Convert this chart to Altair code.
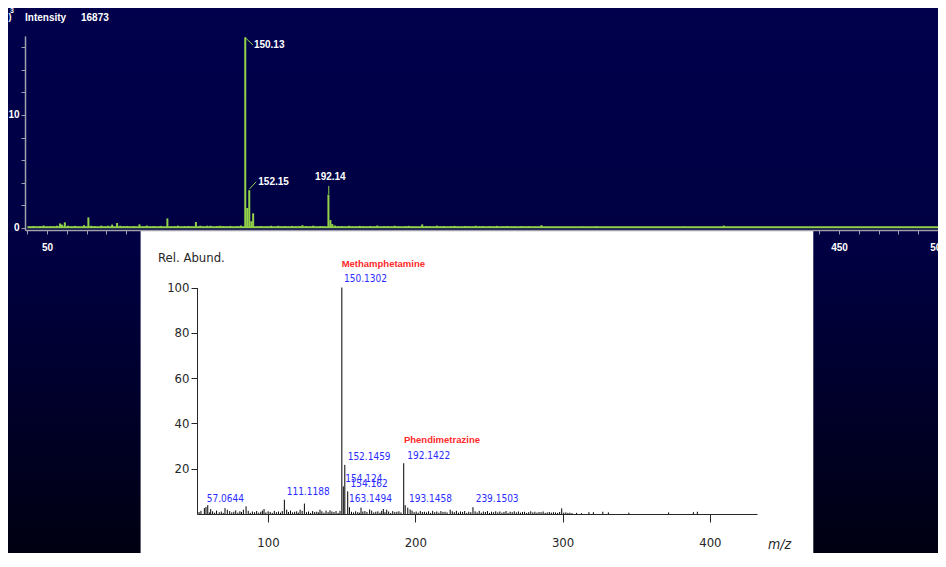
import altair as alt
import pandas as pd

W, H = 930, 545

# ---------------- upper spectrum (intensity x10^3) ----------------
top_mz = [56.6, 57.6, 59.0, 60.6, 68.7, 70.9, 72.3, 80.9, 82.9, 85.4, 87.0, 96.7,
          110.8, 125.2, 127.4, 130.9, 136.0, 137.5, 150.13, 151.13, 152.15, 153.2,
          154.12, 163.2, 177.5, 179.0, 192.14, 193.15, 194.1, 195.5, 239.5, 299.7,
          320.5, 327.5, 371.5, 391.8]
top_int = [0.40, 0.30, 0.50, 0.20, 0.25, 0.94, 0.20, 0.20, 0.30, 0.44, 0.20, 0.32,
           0.85, 0.53, 0.20, 0.20, 0.18, 0.20, 16.873, 1.77, 3.35, 0.60,
           1.30, 0.20, 0.15, 0.25, 2.96, 0.70, 0.35, 0.22, 0.32, 0.25,
           0.12, 0.15, 0.12, 0.22]
top_noise_mz = [41.6, 43.2, 44.9, 46.5, 48.3, 50.1, 51.8, 53.5, 55.0, 62.4, 64.1, 65.8,
                74.0, 75.7, 77.4, 79.1, 88.8, 90.6, 92.3, 94.0, 98.7, 100.4, 102.2, 103.9,
                105.7, 107.4, 112.6, 114.4, 116.1, 117.9, 119.6, 121.4, 123.1, 128.9, 132.6,
                134.3, 139.1, 140.8, 142.6, 144.3, 146.1, 147.9, 156.1, 157.9, 159.7, 161.4,
                165.0, 166.8, 168.5, 170.3, 172.0, 173.8, 175.6, 181.0, 182.8, 184.5, 186.3,
                188.1, 189.9, 197.3, 199.0, 200.8, 202.6, 204.3, 206.1, 207.9, 209.7, 211.4,
                213.2, 215.0, 216.8, 218.5, 220.3, 222.1, 223.9, 225.6, 227.4, 229.2, 231.0,
                232.7, 234.5, 236.3, 241.6, 243.4, 245.2, 246.9, 248.7, 250.5, 252.3, 254.1,
                255.8, 257.6, 259.4, 261.2, 262.9, 264.7, 266.5, 268.3, 270.1, 271.8, 273.6,
                275.4, 277.2, 279.0, 280.7, 282.5, 284.3, 286.1, 287.8, 289.6, 291.4, 293.2,
                295.0, 296.7, 298.3, 301.4, 303.2, 305.0, 306.8, 308.5]
top_noise_int = [0.12, 0.18, 0.10, 0.15, 0.22, 0.11, 0.16, 0.13, 0.20, 0.14, 0.19, 0.12,
                 0.17, 0.10, 0.21, 0.13, 0.15, 0.18, 0.11, 0.16, 0.14, 0.22, 0.12, 0.17,
                 0.10, 0.19, 0.13, 0.16, 0.21, 0.11, 0.15, 0.18, 0.12, 0.14, 0.20,
                 0.10, 0.17, 0.13, 0.19, 0.11, 0.16, 0.22, 0.14, 0.18, 0.12, 0.15,
                 0.10, 0.20, 0.13, 0.17, 0.11, 0.19, 0.14, 0.16, 0.12, 0.21, 0.10,
                 0.18, 0.13, 0.15, 0.17, 0.11, 0.20, 0.14, 0.12, 0.19, 0.16, 0.10,
                 0.18, 0.13, 0.22, 0.11, 0.15, 0.17, 0.12, 0.20, 0.14, 0.10, 0.16,
                 0.19, 0.13, 0.11, 0.18, 0.15, 0.12, 0.21, 0.14, 0.17, 0.10, 0.16,
                 0.19, 0.13, 0.11, 0.18, 0.15, 0.12, 0.20, 0.14, 0.17, 0.10, 0.16,
                 0.13, 0.19, 0.11, 0.15, 0.18, 0.12, 0.14, 0.10, 0.17, 0.13, 0.16,
                 0.11, 0.12, 0.10, 0.09, 0.08, 0.09, 0.08]
top_base = {"x0": [40.1], "x1": [500.0], "y": [0.06]}
top_labels = ["150.13", "152.15", "192.14"]
top_label_mz = [154.5, 156.7, 185.4]
top_label_int = [16.19, 4.08, 4.52]
top_conn_x = [150.1, 152.2, 192.3]
top_conn_x2 = [154.0, 155.6, 192.3]
top_conn_y = [16.85, 3.44, 3.73]
top_conn_y2 = [16.20, 4.08, 3.00]

# ---------------- inset library spectrum (relative abundance %) ----------------
lib_mz = [56.8, 57.9, 59.1, 61.1, 70.8, 72.4, 83.3, 85.1, 97.3, 111.12, 112.7, 121.8,
          124.7, 135.3, 142.1, 150.13, 151.13, 152.15, 154.12, 155.3, 163.15, 169.0,
          178.3, 180.6, 192.14, 193.15, 194.9, 196.5, 223.7, 239.15, 299.4, 317.9,
          320.9, 327.3, 331.1, 345.0, 372.0, 388.8, 391.5]
lib_rel = [2.6, 3.1, 3.9, 2.2, 2.6, 1.9, 1.9, 3.4, 2.2, 6.3, 1.9, 1.9,
           4.6, 1.9, 1.6, 100.0, 12.2, 21.7, 10.0, 3.0, 2.8, 2.0,
           2.2, 1.9, 22.4, 3.9, 2.8, 2.0, 1.9, 3.0, 2.5, 0.8,
           0.8, 1.0, 0.7, 0.6, 0.7, 0.8, 1.0]
lib_noise_mz = [53.2, 54.5, 60.2, 62.4, 63.8, 65.1, 66.9, 68.3, 69.6, 74.0, 75.4, 76.8,
                78.1, 79.5, 80.9, 82.0, 86.6, 88.0, 89.4, 90.9, 92.3, 93.7, 95.1, 96.2,
                98.6, 100.1, 101.5, 102.9, 104.3, 105.7, 107.1, 108.5, 109.7, 113.9, 115.3,
                116.7, 118.1, 119.5, 120.6, 123.2, 126.1, 127.5, 128.9, 130.3, 131.7, 133.1,
                134.2, 136.6, 138.0, 139.4, 140.8, 143.4, 144.8, 146.2, 147.6, 148.9, 156.7,
                158.1, 159.5, 160.9, 162.0, 164.4, 165.8, 167.2, 170.4, 171.8, 173.2, 174.6,
                176.0, 177.2, 179.4, 181.9, 183.3, 184.7, 186.1, 187.5, 188.9, 190.3, 197.8,
                199.2, 200.6, 202.0, 203.4, 204.8, 206.2, 207.6, 209.0, 210.4, 211.8, 213.2,
                214.6, 216.0, 217.4, 218.8, 220.2, 221.6, 225.1, 226.5, 227.9, 229.3, 230.7,
                232.1, 233.5, 234.9, 236.3, 237.7, 240.6, 242.0, 243.4, 244.8, 246.2, 247.6,
                249.0, 250.4, 251.8, 253.2, 254.6, 256.0, 257.4, 258.8, 260.2, 261.6, 263.0,
                264.4, 265.8, 267.2, 268.6, 270.0, 271.4, 272.8, 274.2, 275.6, 277.0, 278.4,
                279.8, 281.2, 282.6, 284.0, 285.4, 286.8, 288.2, 289.6, 291.0, 292.4, 293.8,
                295.2, 296.6, 298.0, 300.8, 302.2, 303.6, 305.0, 306.4, 309.5, 312.8]
lib_noise_rel = [0.9, 1.4, 0.7, 1.2, 0.6, 1.5, 0.8, 1.1, 0.5, 1.3, 0.7, 1.0,
                 1.6, 0.6, 1.2, 0.9, 1.4, 0.5, 1.1, 0.8, 1.3, 0.6, 1.0, 1.5,
                 0.7, 1.2, 0.9, 0.5, 1.4, 0.8, 1.1, 0.6, 1.3, 0.9, 1.5,
                 0.7, 1.0, 1.2, 0.6, 1.4, 0.8, 1.1, 0.5, 1.3, 0.9, 1.0,
                 0.7, 1.2, 0.6, 1.5, 0.8, 1.1, 0.9, 1.3, 0.5, 1.4, 1.0,
                 0.7, 1.2, 0.8, 0.6, 1.1, 1.3, 0.9, 1.5, 0.7, 1.0, 1.2,
                 0.6, 1.4, 0.8, 1.1, 0.5, 1.3, 0.9, 1.0, 1.2, 0.7, 1.5,
                 0.8, 1.1, 0.6, 1.3, 0.9, 1.0, 0.7, 1.2, 0.5, 1.4, 0.8,
                 1.1, 0.6, 1.3, 0.9, 1.0, 0.7, 1.2, 0.8, 1.4, 0.6, 1.1,
                 0.9, 1.3, 0.5, 1.0, 0.8, 1.2, 0.7, 1.4, 0.6, 1.1, 0.9,
                 1.3, 0.5, 1.0, 0.8, 1.2, 0.7, 1.1, 0.6, 0.9, 1.3, 0.5,
                 1.0, 0.8, 1.2, 0.7, 1.1, 0.6, 0.9, 1.0, 0.5, 0.8, 1.2,
                 0.7, 1.0, 0.6, 0.9, 0.8, 1.1, 0.5, 0.7, 0.9, 0.6, 0.8,
                 0.7, 0.5, 0.9, 0.6, 0.7, 0.5, 0.6, 0.4, 0.5, 0.4]
lib_name_text = ["Methamphetamine", "Phendimetrazine"]
lib_name_mz = [150.0, 192.3]
lib_name_rel = [110.5, 32.5]
lib_label_text = ["150.1302", "152.1459", "154.124", "154.162", "163.1494", "111.1188",
                  "57.0644", "192.1422", "193.1458", "239.1503"]
lib_label_mz = [151.6, 154.1, 152.5, 156.1, 155.0, 112.7, 58.4, 194.6, 195.7, 241.0]
lib_label_rel = [103.7, 25.2, 15.6, 13.4, 6.6, 9.7, 6.6, 25.7, 6.8, 6.6]

# ---------------- styling ----------------
GREEN = "#92d24a"
AXGRAY = "#a0a0ac"
BOLD = "Liberation Sans"
NARROW = "Liberation Sans Narrow, DejaVu Sans Condensed, Arial Narrow, sans-serif"
INK = "#262626"

tx = alt.Scale(domain=[38.89, 500.0], range=[17, 930], nice=False, zero=False)
ty = alt.Scale(domain=[-0.177, 17.0], range=[222, 27.9], nice=False, zero=False)
ix = alt.Scale(domain=[51.8, 432.0], range=[189, 749], nice=False, zero=False)
iy = alt.Scale(domain=[0, 100], range=[506, 279.5], nice=False, zero=False)

top_x_axis = alt.Axis(orient="bottom", offset=222 - H,
                      values=[40, 50, 60, 70, 80, 90, 440, 450, 460, 470, 480, 490, 500],
                      labelExpr="datum.value % 50 == 0 ? datum.label : ''",
                      tickSize=4, tickColor=AXGRAY, domainColor=AXGRAY, domainWidth=1.5,
                      labelColor="white", labelFont=BOLD, labelFontWeight="bold",
                      labelFontSize=10, labelPadding=8, labelFlush=False,
                      labelOverlap=False, grid=False, title=None, zindex=1)
top_y_axis = alt.Axis(orient="left", offset=-17,
                      values=[0, 2, 4, 6, 8, 10, 12, 14, 16],
                      labelExpr="datum.value == 0 || datum.value == 10 ? datum.label : ''",
                      tickSize=4, tickColor=AXGRAY, domainColor=AXGRAY, domainWidth=1.5,
                      labelColor="white", labelFont=BOLD, labelFontWeight="bold",
                      labelFontSize=10, labelPadding=2, labelOverlap=False,
                      grid=False, title=None, zindex=1)
ins_x_axis = alt.Axis(orient="bottom", offset=506 - H, values=[100, 200, 300, 400],
                      tickSize=8, tickColor=INK, domainColor=INK, domainWidth=1,
                      labelColor=INK, labelFont=NARROW, labelFontSize=13,
                      labelPadding=14, labelFlush=False, grid=False, title=None, zindex=1)
ins_y_axis = alt.Axis(orient="left", offset=-189, values=[20, 40, 60, 80, 100],
                      tickSize=6, tickColor=INK, domainColor=INK, domainWidth=1,
                      labelColor=INK, labelFont=NARROW, labelFontSize=13,
                      labelPadding=2, grid=False, title=None, zindex=1)

one = pd.DataFrame({"k": [0]})

bg = alt.Chart(one).mark_rect(
    fill=alt.Gradient(gradient="linear",
                      stops=[alt.GradientStop(color="#00004c", offset=0),
                             alt.GradientStop(color="#000042", offset=0.45),
                             alt.GradientStop(color="#000012", offset=1)],
                      x1=0, x2=0, y1=0, y2=1)
).encode(x=alt.value(0), x2=alt.value(W), y=alt.value(0), y2=alt.value(H))

top_pairs = list(zip(top_mz, top_int)) + list(zip(top_noise_mz, top_noise_int))
top_peaks = pd.DataFrame(top_pairs, columns=["mz", "inten"])
top_peaks["z"] = 0.0
top_bars = alt.Chart(top_peaks).mark_rule(color=GREEN, strokeWidth=2).encode(
    x=alt.X("mz:Q", scale=tx, axis=top_x_axis),
    y=alt.Y("z:Q", scale=ty, axis=top_y_axis),
    y2="inten:Q",
)
top_baseline = alt.Chart(pd.DataFrame(top_base)).mark_rule(color=GREEN, strokeWidth=2).encode(
    x=alt.X("x0:Q", scale=tx), x2="x1:Q", y=alt.Y("y:Q", scale=ty))
top_conn = alt.Chart(pd.DataFrame({"x": top_conn_x, "x2": top_conn_x2,
                                   "y": top_conn_y, "y2": top_conn_y2})
                     ).mark_rule(color=GREEN, strokeWidth=1).encode(
    x=alt.X("x:Q", scale=tx), x2="x2:Q", y=alt.Y("y:Q", scale=ty), y2="y2:Q")
top_text = alt.Chart(pd.DataFrame({"t": top_labels, "x": top_label_mz, "y": top_label_int})
                     ).mark_text(color="white", font=BOLD, fontWeight="bold", fontSize=10,
                                 align="left", baseline="middle").encode(
    x=alt.X("x:Q", scale=tx), y=alt.Y("y:Q", scale=ty), text="t:N")
top_layer = alt.layer(top_baseline, top_bars, top_conn, top_text)

panel = alt.Chart(one).mark_rect(color="white").encode(
    x=alt.value(132.6), x2=alt.value(805.3), y=alt.value(223), y2=alt.value(H))

lib_pairs = list(zip(lib_mz, lib_rel)) + list(zip(lib_noise_mz, lib_noise_rel))
lib_peaks = pd.DataFrame(lib_pairs, columns=["mz", "rel"])
lib_peaks["z"] = 0.0
lib_bars = alt.Chart(lib_peaks).mark_rule(color="black", strokeWidth=1).encode(
    x=alt.X("mz:Q", scale=ix, axis=ins_x_axis),
    y=alt.Y("z:Q", scale=iy, axis=ins_y_axis),
    y2="rel:Q",
)
lib_names = alt.Chart(pd.DataFrame({"t": lib_name_text, "x": lib_name_mz, "y": lib_name_rel})
                      ).mark_text(color="#ff2a2a", font=BOLD, fontWeight="bold", fontSize=9.5,
                                  align="left", baseline="middle").encode(
    x=alt.X("x:Q", scale=ix), y=alt.Y("y:Q", scale=iy), text="t:N")
lib_labels = alt.Chart(pd.DataFrame({"t": lib_label_text, "x": lib_label_mz, "y": lib_label_rel})
                       ).mark_text(color="#2b2bff", font=NARROW, fontSize=10,
                                   align="left", baseline="middle").encode(
    x=alt.X("x:Q", scale=ix), y=alt.Y("y:Q", scale=iy), text="t:N")
inset_layer = alt.layer(lib_bars, lib_names, lib_labels)

t_int = alt.Chart(one).mark_text(text="Intensity", color="white", font=BOLD,
                                 fontWeight="bold", fontSize=10, align="left",
                                 baseline="middle").encode(x=alt.value(17), y=alt.value(10))
t_val = alt.Chart(one).mark_text(text="16873", color="white", font=BOLD,
                                 fontWeight="bold", fontSize=10, align="left",
                                 baseline="middle").encode(x=alt.value(73), y=alt.value(10))
t_par = alt.Chart(one).mark_text(text=")", color="white", font=BOLD, fontWeight="bold",
                                 fontSize=9, align="left", baseline="middle"
                                 ).encode(x=alt.value(0.5), y=alt.value(9))
t_exp = alt.Chart(one).mark_text(text="3", color="white", font=BOLD, fontWeight="bold",
                                 fontSize=7, align="left", baseline="top"
                                 ).encode(x=alt.value(2), y=alt.value(-1))
t_rel = alt.Chart(one).mark_text(text="Rel. Abund.", color=INK, font=NARROW, fontSize=13,
                                 align="left", baseline="middle"
                                 ).encode(x=alt.value(150), y=alt.value(250))
t_mz = alt.Chart(one).mark_text(text="m/z", color=INK, font=NARROW, fontSize=14,
                                fontStyle="italic", align="left", baseline="middle"
                                ).encode(x=alt.value(760), y=alt.value(537))

chart = alt.layer(bg, top_layer, panel, inset_layer, t_int, t_val, t_par, t_exp, t_rel, t_mz
                  ).resolve_scale(x="independent", y="independent").properties(
    width=W, height=H, padding=0, background="#000040",
    autosize=alt.AutoSizeParams(type="none"),
).configure_view(stroke=None)

chart.save("out.html", embed_options={"renderer": "svg", "actions": False})
